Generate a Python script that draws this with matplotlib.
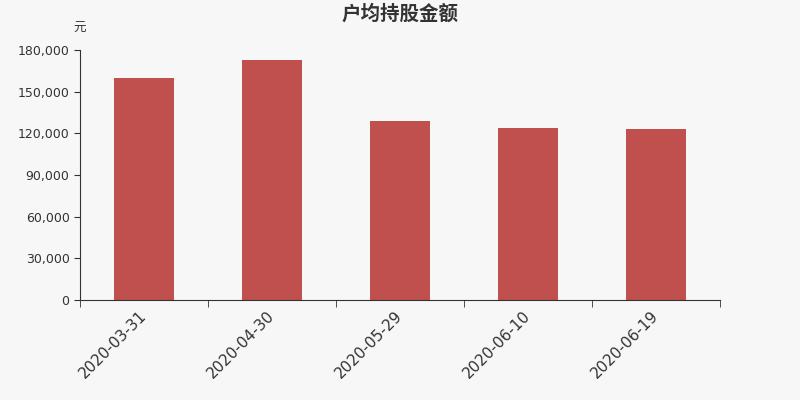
import matplotlib
matplotlib.use('Agg')
from matplotlib import pyplot as plt
from matplotlib.ticker import FuncFormatter
from matplotlib.transforms import ScaledTranslation
import numpy as np

plt.rcParams['font.family'] = ['DejaVu Sans', 'Noto Sans CJK SC']
plt.rcParams['axes.unicode_minus'] = False

# 数据
dates = ['2020-03-31', '2020-04-30', '2020-05-29', '2020-06-10', '2020-06-19']
amounts = [159800, 172800, 129000, 123800, 123400]
yticks = [0, 30000, 60000, 90000, 120000, 150000, 180000]

bg = '#f7f7f7'
fig = plt.figure(figsize=(8, 4), dpi=100, facecolor=bg)
ax = fig.add_axes([0.1, 0.25, 0.8, 0.625], facecolor=bg)

x = np.arange(len(dates))
ax.bar(x, amounts, width=0.47, color='#c0504d', zorder=2)

ax.set_xlim(-0.5, len(dates) - 0.5)
ax.set_ylim(0, 180000)
ax.set_yticks(yticks)
ax.yaxis.set_major_formatter(FuncFormatter(lambda v, p: '{:,.0f}'.format(v)))
ax.set_xticks(x)
ax.set_xticklabels(dates, rotation=45, ha='right', rotation_mode='anchor', fontsize=11, color='#333333')
ax.tick_params(axis='x', length=0, pad=6)
# 标签左移一点
off = ScaledTranslation(-5 / 100, 0, fig.dpi_scale_trans)
for lb in ax.get_xticklabels():
    lb.set_transform(lb.get_transform() + off)
# 分类边界刻度
ax.set_xticks(np.arange(-0.5, len(dates)), minor=True)
ax.tick_params(axis='x', which='minor', length=5, color='#333333')
ax.tick_params(axis='y', labelsize=9, labelcolor='#333333', length=4, color='#333333')

for s in ['top', 'right']:
    ax.spines[s].set_visible(False)
ax.spines['left'].set_color('#333333')
ax.spines['bottom'].set_color('#333333')

fig.text(0.5, 0.965, '户均持股金额', ha='center', va='center', fontsize=14, fontweight='bold',
         color='#333333', family='Noto Sans CJK SC')
fig.text(0.1, 0.93, '元', ha='center', va='center', fontsize=9, color='#333333', family='Noto Sans CJK SC')

fig.savefig('out.png', dpi=100, facecolor=bg)
